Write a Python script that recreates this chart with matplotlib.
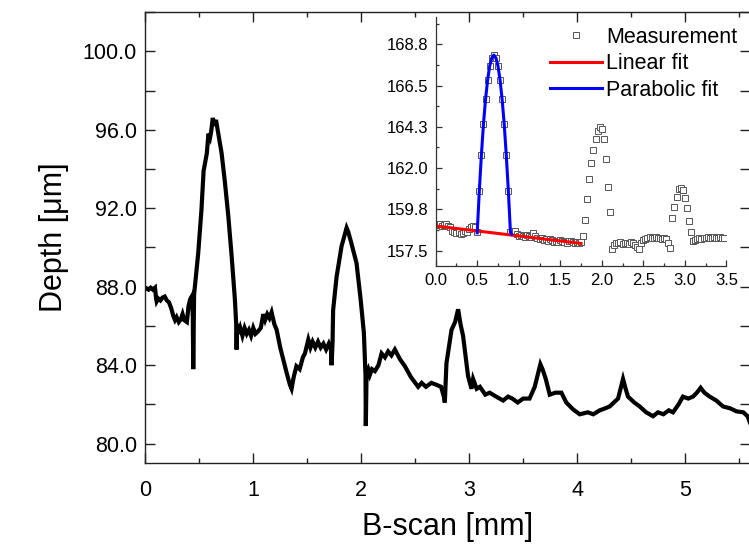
import matplotlib
matplotlib.use('Agg')
import matplotlib.pyplot as plt
import numpy as np
from matplotlib.ticker import MultipleLocator, FormatStrFormatter, FixedLocator

plt.rcParams['font.family'] = ['Liberation Sans', 'DejaVu Sans']

# Main B-scan depth profile
bscan_mm = [0.00, 0.03, 0.05, 0.07, 0.09, 0.10, 0.105, 0.12, 0.14, 0.16, 0.18, 0.20, 0.22, 0.24,
            0.26, 0.275, 0.29, 0.31, 0.33, 0.345, 0.36, 0.385, 0.40, 0.415, 0.43, 0.44, 0.444,
            0.452, 0.47, 0.49, 0.52, 0.54, 0.57, 0.585, 0.60, 0.61, 0.625, 0.64, 0.655,
            0.676, 0.707, 0.738, 0.769, 0.80, 0.83, 0.843, 0.846, 0.85, 0.865, 0.88, 0.90,
            0.92, 0.94, 0.96, 0.98, 1.00, 1.02, 1.04, 1.07, 1.093, 1.11, 1.13, 1.15, 1.17,
            1.195, 1.217, 1.25, 1.278, 1.31, 1.34, 1.355, 1.375, 1.40, 1.43, 1.46, 1.479, 1.51,
            1.53, 1.55, 1.575, 1.60, 1.625, 1.65, 1.675, 1.70, 1.72, 1.726, 1.735, 1.74, 1.772,
            1.818, 1.84, 1.865, 1.88, 1.91, 1.957, 1.995, 2.025, 2.04, 2.043, 2.05, 2.065, 2.08,
            2.10, 2.127, 2.16, 2.189, 2.22, 2.25, 2.28, 2.312, 2.36, 2.405, 2.46, 2.528, 2.56,
            2.60, 2.65, 2.698, 2.74, 2.766, 2.775, 2.79, 2.837, 2.87, 2.898, 2.92, 2.944, 2.99,
            3.022, 3.037, 3.07, 3.10, 3.15, 3.19, 3.25, 3.315, 3.36, 3.40, 3.45, 3.50, 3.56,
            3.608, 3.64, 3.66, 3.68, 3.71, 3.747, 3.80, 3.855, 3.90, 3.963, 4.025, 4.10, 4.15,
            4.21, 4.26, 4.303, 4.38, 4.426, 4.45, 4.472, 4.53, 4.58, 4.64, 4.704, 4.75, 4.80,
            4.85, 4.889, 4.94, 4.981, 5.03, 5.074, 5.11, 5.145, 5.18, 5.229, 5.29, 5.352, 5.42,
            5.476, 5.54, 5.58, 5.60]
depth_um = [87.95, 87.85, 87.95, 87.85, 87.95, 87.4, 87.25, 87.4, 87.3, 87.45, 87.5, 87.3, 87.2,
            86.9, 86.5, 86.3, 86.45, 86.2, 86.35, 86.6, 86.3, 86.2, 87.0, 87.35, 87.5, 86.5,
            83.8, 87.6, 88.6, 89.7, 91.9, 93.9, 94.8, 95.8, 95.6, 95.9, 96.6, 96.2, 96.5,
            95.8, 94.8, 93.3, 91.6, 89.55, 87.35, 86.0, 84.8, 86.1, 85.6, 85.9, 85.5,
            85.9, 85.6, 85.8, 85.5, 85.9, 85.6, 85.7, 85.9, 86.6, 86.3, 86.6, 86.4, 86.7,
            86.1, 85.8, 84.9, 84.3, 83.6, 83.0, 82.8, 83.4, 83.95, 83.8, 84.4, 84.6, 85.3,
            84.9, 85.2, 84.9, 85.2, 84.9, 85.1, 84.8, 85.1, 84.8, 84.0, 85.2, 86.8, 88.5,
            90.06, 90.5, 91.0, 90.8, 90.2, 89.2, 87.35, 85.65, 83.5, 80.9, 83.6, 83.8, 83.5,
            83.8, 83.7, 84.0, 84.6, 84.4, 84.7, 84.5, 84.8, 84.3, 83.95, 83.4, 82.9, 83.1,
            82.9, 83.1, 83.0, 82.9, 82.4, 82.1, 84.1, 85.8, 86.2, 86.85, 86.1, 85.5, 83.45,
            82.8, 83.3, 82.8, 82.9, 82.5, 82.6, 82.4, 82.2, 82.4, 82.3, 82.1, 82.3, 82.3,
            82.9, 83.6, 84.05, 83.8, 83.3, 82.5, 82.6, 82.6, 82.1, 81.75, 81.5, 81.6, 81.5,
            81.7, 81.8, 81.9, 82.3, 83.3, 82.8, 82.4, 82.1, 81.9, 81.6, 81.4, 81.6, 81.5,
            81.7, 81.6, 82.0, 82.4, 82.3, 82.4, 82.6, 82.85, 82.6, 82.4, 82.2, 81.9, 81.8,
            81.65, 81.6, 81.4, 81.1]

# Inset: measurement samples every 0.025 mm from 0 to 3.475
meas_step = 0.025
meas_depth = [158.95, 158.9, 158.95, 158.85, 158.9, 158.95, 158.85, 158.8,
              158.6, 158.5, 158.45, 158.5, 158.4, 158.45, 158.55, 158.5,
              158.7, 158.8, 158.85, 158.8,
              158.5, 160.75, 162.7, 164.4, 165.75, 166.8, 167.55, 168.0, 168.15, 168.0, 167.55,
              166.8, 165.75, 164.4, 162.7, 160.75, 158.5,
              158.6, 158.55, 158.4, 158.3, 158.35, 158.3, 158.25, 158.35, 158.3, 158.25, 158.45,
              158.3, 158.2, 158.15, 158.2, 158.1, 158.15, 158.05, 158.15, 158.1, 158.0, 158.05,
              158.0, 158.1, 158.05, 158.0, 157.95, 158.05, 158.05, 158.0, 157.95, 158.0, 157.95,
              158.0,
              158.3, 159.2, 160.3, 161.4, 162.3, 163.0, 163.6, 164.05, 164.25, 164.15, 163.6,
              162.5, 161.0, 159.6, 157.6,
              157.8, 157.95, 157.9, 158.0, 157.85, 157.95, 157.9, 157.85, 158.0, 157.95, 157.8,
              157.7, 157.6, 157.9, 158.1, 158.15, 158.2, 158.25, 158.2, 158.2, 158.25, 158.2,
              158.2, 158.15, 158.2, 158.15, 157.95, 157.65,
              159.3, 159.9, 160.45, 160.85, 160.9, 160.8, 160.4, 159.85, 159.1, 158.5, 158.05,
              158.1, 158.15, 158.2, 158.15, 158.2, 158.2, 158.25, 158.2, 158.2, 158.25, 158.2,
              158.2, 158.25, 158.2, 158.2]
meas_x = [round(i * meas_step, 3) for i in range(len(meas_depth))]

linear_x = [0.0, 1.75]
linear_y = [158.85, 157.9]

parabola_x = [0.50, 0.525, 0.55, 0.575, 0.60, 0.625, 0.65, 0.675, 0.70, 0.725, 0.75, 0.775,
              0.80, 0.825, 0.85, 0.875, 0.90, 0.914]
parabola_y = [158.48, 160.75, 162.7, 164.4, 165.74, 166.8, 167.56, 168.0, 168.16, 168.0, 167.56,
              166.8, 165.74, 164.4, 162.7, 160.75, 158.5, 158.4]

inset_yticks = [157.5, 159.75, 162.0, 164.25, 166.5, 168.75]
inset_yticklabels = ['157.5', '159.8', '162.0', '164.3', '166.5', '168.8']

fig = plt.figure(figsize=(7.49, 5.44), dpi=100)
ax = fig.add_axes([0.194, 0.1483, 0.807, 0.8296])
ax.plot(bscan_mm, depth_um, color='black', lw=3.0, solid_joinstyle='miter')
ax.set_xlim(0, 5.6)
ax.set_ylim(79.0, 102.0)
ax.xaxis.set_major_locator(MultipleLocator(1))
ax.xaxis.set_minor_locator(MultipleLocator(0.5))
ax.yaxis.set_major_locator(MultipleLocator(4))
ax.yaxis.set_minor_locator(MultipleLocator(2))
ax.yaxis.set_major_formatter(FormatStrFormatter('%.1f'))
ax.tick_params(which='both', direction='in', top=True, right=True, labelsize=15.5, width=1.0,
               color='#222222')
ax.tick_params(axis='x', which='major', length=7, pad=12)
ax.tick_params(axis='x', which='minor', length=3.5)
ax.tick_params(axis='y', which='both', length=7, pad=6)
for s in ax.spines.values():
    s.set_linewidth(1.0)
    s.set_color('#222222')
ax.set_xlabel('B-scan [mm]', fontsize=22, labelpad=8)
ax.set_ylabel('Depth [μm]', fontsize=22, labelpad=10)

# Inset
ins = fig.add_axes([0.5817, 0.511, 0.3881, 0.4577])
ins.patch.set_alpha(0)
ins.plot(meas_x, meas_depth, 's', ms=3.8, mfc='white', mec='#555555', mew=0.7,
         label='Measurement')
ins.plot(linear_x, linear_y, color='red', lw=2.2, label='Linear fit')
ins.plot(parabola_x, parabola_y, color='blue', lw=2.2, label='Parabolic fit')
ins.set_xlim(0, 3.5)
ins.set_ylim(156.67, 170.23)
ins.xaxis.set_major_locator(MultipleLocator(0.5))
ins.xaxis.set_minor_locator(MultipleLocator(0.25))
ins.xaxis.set_major_formatter(FormatStrFormatter('%.1f'))
ins.set_yticks(inset_yticks)
ins.set_yticklabels(inset_yticklabels)
ins.yaxis.set_minor_locator(FixedLocator([158.625, 160.875, 163.125, 165.375, 167.625, 169.875]))
ins.spines['top'].set_visible(False)
ins.spines['right'].set_visible(False)
for s in ['left', 'bottom']:
    ins.spines[s].set_linewidth(0.9)
    ins.spines[s].set_color('#333333')
ins.tick_params(which='both', direction='in', labelsize=12, width=0.9, color='#333333')
ins.tick_params(which='major', length=4, pad=5)
ins.tick_params(which='minor', length=2)

handles, labels = ins.get_legend_handles_labels()
fig.legend(handles, labels, loc='upper right', bbox_to_anchor=(737 / 749, 1 - 27 / 544),
           frameon=False, fontsize=15.5, handlelength=2.4, handletextpad=0.2,
           labelspacing=0.25, borderpad=0, borderaxespad=0, numpoints=1, markerscale=1.2)

fig.savefig('out.png', dpi=100)
